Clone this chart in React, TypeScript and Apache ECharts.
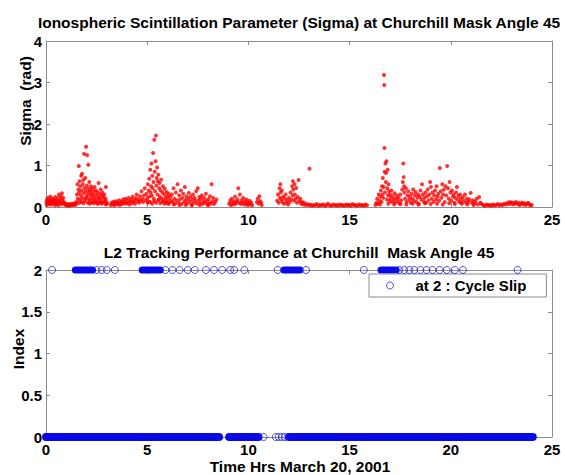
import React, { useEffect, useRef } from "react";
import * as echarts from "echarts";

// ---------- data ----------
const xTickStep = 5;
const xMax = 25;
const sigmaMax = 4;
const indexMax = 2;

// sigma samples [hour, sigma rad]
const sigma00to15 = [
  [0.02, 0.12], [0.03, 0.05], [0.05, 0.18], [0.08, 0.09], [0.1, 0.22], [0.13, 0.14], [0.15, 0.1], [0.16, 0.06],
  [0.19, 0.17], [0.22, 0.25], [0.25, 0.1], [0.27, 0.06], [0.28, 0.15], [0.31, 0.2], [0.34, 0.08], [0.37, 0.13],
  [0.4, 0.18], [0.43, 0.11], [0.44, 0.05], [0.46, 0.24], [0.49, 0.07], [0.52, 0.16], [0.55, 0.12], [0.58, 0.21],
  [0.6, 0.04], [0.61, 0.09], [0.64, 0.3], [0.67, 0.14], [0.7, 0.19], [0.73, 0.26], [0.75, 0.06], [0.76, 0.1],
  [0.79, 0.33], [0.82, 0.17], [0.85, 0.22], [0.88, 0.12], [0.9, 0.09], [0.92, 0.07], [0.96, 0.05], [1.0, 0.08],
  [1.04, 0.04], [1.08, 0.06], [1.12, 0.03], [1.16, 0.07], [1.2, 0.05], [1.24, 0.04], [1.28, 0.08], [1.32, 0.05],
  [1.36, 0.06], [1.4, 0.09], [1.44, 0.05],
];
const sigma15to31 = [
  [1.5, 0.12], [1.52, 0.08], [1.53, 0.3], [1.55, 0.55], [1.57, 0.2], [1.6, 0.42], [1.62, 0.99], [1.64, 0.35],
  [1.65, 0.1], [1.66, 0.62], [1.68, 0.18], [1.7, 0.5], [1.72, 0.28], [1.74, 0.75], [1.75, 0.12], [1.76, 0.4],
  [1.78, 0.8], [1.8, 0.22], [1.82, 0.55], [1.84, 0.65], [1.85, 0.09], [1.86, 0.33], [1.88, 1.28], [1.9, 0.46],
  [1.92, 0.15], [1.94, 0.7], [1.95, 0.2], [1.96, 0.38], [1.98, 1.45], [2.0, 0.25], [2.02, 0.52], [2.03, 1.25],
  [2.05, 0.3], [2.06, 0.1], [2.07, 0.44], [2.09, 1.02], [2.1, 0.2], [2.12, 0.36], [2.14, 0.6], [2.15, 0.08],
  [2.16, 0.14], [2.18, 0.41], [2.2, 0.28], [2.22, 0.5], [2.24, 0.19], [2.25, 0.1], [2.26, 0.33], [2.28, 0.45],
  [2.3, 0.12], [2.32, 0.27], [2.35, 0.38], [2.36, 0.09], [2.37, 0.21], [2.4, 0.48], [2.42, 0.16], [2.44, 0.3],
  [2.45, 0.12], [2.47, 0.4], [2.5, 0.1], [2.52, 0.25], [2.55, 0.35], [2.56, 0.07], [2.57, 0.18], [2.6, 0.58],
  [2.62, 0.22], [2.65, 0.31], [2.66, 0.1], [2.68, 0.13], [2.7, 0.42], [2.73, 0.2], [2.75, 0.08], [2.76, 0.28],
  [2.79, 0.35], [2.82, 0.11], [2.85, 0.24], [2.86, 0.12], [2.88, 0.3], [2.91, 0.16], [2.94, 0.2], [2.95, 0.06],
  [2.96, 0.48], [2.99, 0.12], [3.02, 0.08],
];
const sigma32to49 = [
  [3.2, 0.05], [3.24, 0.1], [3.28, 0.07], [3.32, 0.12], [3.36, 0.04], [3.4, 0.09], [3.44, 0.14], [3.48, 0.06],
  [3.52, 0.11], [3.56, 0.08], [3.6, 0.16], [3.64, 0.05], [3.68, 0.1], [3.72, 0.13], [3.76, 0.07], [3.8, 0.18],
  [3.84, 0.09], [3.88, 0.12], [3.92, 0.2], [3.96, 0.08], [4.0, 0.15], [4.04, 0.1], [4.08, 0.22], [4.12, 0.06],
  [4.16, 0.14], [4.2, 0.19], [4.24, 0.09], [4.28, 0.25], [4.32, 0.12], [4.36, 0.17], [4.4, 0.08], [4.44, 0.21],
  [4.48, 0.3], [4.52, 0.13], [4.56, 0.18], [4.6, 0.1], [4.64, 0.26], [4.68, 0.15], [4.72, 0.38], [4.76, 0.2],
  [4.8, 0.12], [4.84, 0.28], [4.88, 0.45], [4.92, 0.17],
];
const sigma49to62 = [
  [4.96, 0.32], [5.0, 0.22], [5.02, 0.1], [5.03, 0.55], [5.06, 0.14], [5.08, 0.4], [5.1, 0.68], [5.12, 0.25],
  [5.14, 0.12], [5.15, 0.9], [5.17, 0.35], [5.19, 0.5], [5.21, 1.05], [5.23, 0.28], [5.24, 0.08], [5.25, 0.75],
  [5.27, 0.45], [5.29, 1.3], [5.31, 0.6], [5.33, 0.2], [5.34, 0.14], [5.35, 1.62], [5.37, 0.85], [5.39, 0.38],
  [5.41, 1.1], [5.43, 1.72], [5.44, 0.1], [5.45, 0.52], [5.47, 0.7], [5.49, 0.95], [5.51, 0.3], [5.53, 0.62],
  [5.54, 0.16], [5.55, 0.78], [5.57, 0.18], [5.59, 0.45], [5.61, 0.58], [5.63, 0.25], [5.64, 0.09], [5.66, 0.4],
  [5.69, 0.66], [5.72, 0.2], [5.74, 0.12], [5.75, 0.35], [5.78, 0.5], [5.81, 0.15], [5.84, 0.3], [5.85, 0.08],
  [5.87, 0.44], [5.9, 0.22], [5.93, 0.12], [5.95, 0.1], [5.96, 0.36], [6.0, 0.26], [6.03, 0.18], [6.05, 0.07],
  [6.06, 0.32], [6.1, 0.1], [6.14, 0.24], [6.18, 0.15],
];
const sigma62to85 = [
  [6.22, 0.3], [6.26, 0.12], [6.3, 0.45], [6.31, 0.06], [6.34, 0.2], [6.38, 0.08], [6.42, 0.35], [6.46, 0.16],
  [6.5, 0.55], [6.54, 0.1], [6.58, 0.28], [6.6, 0.05], [6.62, 0.18], [6.66, 0.4], [6.7, 0.07], [6.74, 0.22],
  [6.78, 0.32], [6.82, 0.12], [6.86, 0.48], [6.9, 0.17], [6.91, 0.05], [6.94, 0.26], [6.98, 0.09], [7.02, 0.2],
  [7.06, 0.34], [7.1, 0.13], [7.14, 0.25], [7.18, 0.06], [7.21, 0.04], [7.22, 0.18], [7.26, 0.3], [7.3, 0.1],
  [7.34, 0.22], [7.38, 0.15], [7.42, 0.38], [7.46, 0.08], [7.5, 0.45], [7.54, 0.16], [7.58, 0.24], [7.6, 0.05],
  [7.62, 0.1], [7.66, 0.2], [7.7, 0.28], [7.74, 0.07], [7.78, 0.14], [7.82, 0.22], [7.86, 0.1], [7.9, 0.32],
  [7.94, 0.15], [7.98, 0.06], [8.01, 0.04], [8.02, 0.19], [8.06, 0.11], [8.1, 0.26], [8.14, 0.08], [8.18, 0.55],
  [8.22, 0.14], [8.26, 0.22], [8.3, 0.07], [8.36, 0.12], [8.42, 0.18],
];
const sigma90to107 = [
  [9.05, 0.08], [9.1, 0.15], [9.14, 0.05], [9.18, 0.2], [9.22, 0.1], [9.26, 0.06], [9.3, 0.14], [9.34, 0.25],
  [9.38, 0.08], [9.42, 0.12], [9.46, 0.18], [9.5, 0.45], [9.54, 0.1], [9.58, 0.3], [9.62, 0.07], [9.66, 0.16],
  [9.7, 0.11], [9.74, 0.22], [9.78, 0.06], [9.82, 0.13], [9.86, 0.09], [9.9, 0.18], [9.94, 0.05], [9.98, 0.12],
  [10.02, 0.08], [10.06, 0.15], [10.1, 0.06], [10.14, 0.1], [10.18, 0.04], [10.42, 0.12], [10.46, 0.2],
  [10.5, 0.08], [10.54, 0.26], [10.58, 0.14], [10.62, 0.1], [10.66, 0.05],
];
const sigma114to128 = [
  [11.42, 0.15], [11.46, 0.3], [11.5, 0.1], [11.54, 0.45], [11.56, 0.22], [11.58, 0.55], [11.6, 0.35],
  [11.62, 0.18], [11.65, 0.4], [11.68, 0.12], [11.72, 0.25], [11.76, 0.08], [11.8, 0.2], [11.84, 0.3],
  [11.88, 0.1], [11.92, 0.16], [11.96, 0.06], [12.0, 0.22], [12.04, 0.12], [12.08, 0.35], [12.12, 0.18],
  [12.16, 0.5], [12.18, 0.28], [12.2, 0.62], [12.22, 0.42], [12.25, 0.15], [12.28, 0.55], [12.3, 0.3],
  [12.33, 0.2], [12.36, 0.46], [12.4, 0.1], [12.44, 0.24], [12.48, 0.65], [12.52, 0.14], [12.56, 0.2],
  [12.6, 0.08], [12.65, 0.12], [12.7, 0.06], [12.75, 0.1],
];
const sigma128to163 = [
  [12.82, 0.05], [12.9, 0.07], [12.98, 0.04], [13.02, 0.92], [13.06, 0.06], [13.14, 0.03], [13.22, 0.05],
  [13.3, 0.04], [13.37, 0.07], [13.46, 0.03], [13.53, 0.05], [13.62, 0.04], [13.7, 0.06], [13.79, 0.03],
  [13.86, 0.05], [13.93, 0.08], [14.02, 0.04], [14.1, 0.03], [14.18, 0.06], [14.27, 0.04], [14.34, 0.05],
  [14.42, 0.03], [14.5, 0.06], [14.58, 0.04], [14.66, 0.05], [14.74, 0.03], [14.83, 0.06], [14.9, 0.04],
  [14.98, 0.05], [15.06, 0.03], [15.14, 0.07], [15.22, 0.04], [15.3, 0.05], [15.38, 0.03], [15.46, 0.06],
  [15.54, 0.04], [15.62, 0.05], [15.7, 0.03], [15.78, 0.06], [15.86, 0.04], [16.28, 0.05],
];
const sigma163to216 = [
  [16.32, 0.1], [16.36, 0.2], [16.4, 0.08], [16.44, 0.3], [16.48, 0.15], [16.5, 0.06], [16.52, 0.25],
  [16.55, 0.4], [16.58, 0.12], [16.6, 0.5], [16.62, 0.3], [16.64, 0.7], [16.66, 0.22], [16.68, 0.48],
  [16.7, 3.18], [16.71, 2.94], [16.72, 1.42], [16.73, 0.85], [16.75, 0.35], [16.77, 1.05], [16.79, 0.6],
  [16.8, 0.82], [16.82, 1.1], [16.84, 0.18], [16.86, 0.45], [16.88, 0.9], [16.9, 0.28], [16.91, 0.08],
  [16.92, 0.55], [16.95, 0.38], [16.98, 0.15], [17.0, 0.3], [17.03, 0.22], [17.06, 0.4], [17.1, 0.12],
  [17.14, 0.26], [17.18, 0.18], [17.2, 0.06], [17.22, 0.33], [17.26, 0.1], [17.3, 0.2], [17.34, 0.28],
  [17.38, 0.14], [17.42, 0.22], [17.46, 0.08], [17.5, 0.3], [17.52, 0.07], [17.55, 0.16], [17.6, 0.42],
  [17.63, 0.6], [17.65, 1.05], [17.67, 0.72], [17.69, 0.5], [17.71, 0.35], [17.74, 0.2], [17.78, 0.45],
  [17.8, 0.06], [17.82, 0.12], [17.86, 0.28], [17.9, 0.38], [17.94, 0.18], [17.98, 0.25], [18.02, 0.1],
  [18.06, 0.32], [18.1, 0.2], [18.11, 0.08], [18.14, 0.42], [18.18, 0.15], [18.22, 0.28], [18.26, 0.36],
  [18.3, 0.12], [18.34, 0.22], [18.38, 0.3], [18.4, 0.06], [18.42, 0.08], [18.46, 0.25], [18.5, 0.4],
  [18.54, 0.18], [18.58, 0.55], [18.62, 0.3], [18.66, 0.14], [18.7, 0.22], [18.72, 0.09], [18.74, 0.35],
  [18.78, 0.1], [18.82, 0.26], [18.86, 0.42], [18.9, 0.16], [18.94, 0.3], [18.98, 0.6], [19.0, 0.07],
  [19.02, 0.48], [19.06, 0.2], [19.1, 0.35], [19.14, 0.12], [19.18, 0.28], [19.22, 0.4], [19.26, 0.18],
  [19.3, 0.5], [19.32, 0.08], [19.34, 0.25], [19.38, 0.32], [19.42, 0.15], [19.46, 0.94], [19.5, 0.38],
  [19.54, 0.22], [19.58, 0.55], [19.6, 0.06], [19.62, 0.3], [19.66, 0.42], [19.7, 0.12], [19.74, 0.5],
  [19.78, 0.28], [19.82, 0.99], [19.86, 0.45], [19.9, 0.2], [19.92, 0.09], [19.94, 0.6], [19.98, 0.35],
  [20.02, 0.15], [20.06, 0.4], [20.1, 0.25], [20.14, 0.3], [20.18, 0.1], [20.2, 0.07], [20.22, 0.22],
  [20.26, 0.35], [20.3, 0.48], [20.34, 0.18], [20.38, 0.27], [20.42, 0.12], [20.46, 0.3], [20.5, 0.2],
  [20.52, 0.1], [20.55, 0.08], [20.6, 0.24], [20.65, 0.15], [20.7, 0.3], [20.75, 0.1], [20.8, 0.2],
  [20.82, 0.06], [20.86, 0.12], [20.92, 0.18], [20.98, 0.34], [21.04, 0.1], [21.1, 0.16], [21.12, 0.05],
  [21.16, 0.08], [21.22, 0.12], [21.28, 0.2], [21.34, 0.06], [21.4, 0.24], [21.46, 0.1], [21.52, 0.07],
];
const sigma216to240 = [
  [21.6, 0.05], [21.68, 0.03], [21.76, 0.06], [21.84, 0.04], [21.92, 0.05], [22.0, 0.03], [22.08, 0.06],
  [22.16, 0.04], [22.24, 0.05], [22.32, 0.07], [22.4, 0.04], [22.48, 0.06], [22.56, 0.05], [22.64, 0.08],
  [22.72, 0.06], [22.8, 0.1], [22.86, 0.07], [22.92, 0.12], [22.98, 0.08], [23.04, 0.11], [23.1, 0.06],
  [23.16, 0.09], [23.22, 0.12], [23.28, 0.07], [23.34, 0.1], [23.4, 0.05], [23.46, 0.08], [23.52, 0.11],
  [23.58, 0.06], [23.64, 0.09], [23.7, 0.05], [23.76, 0.08], [23.82, 0.1], [23.88, 0.06], [23.94, 0.04],
  [24.0, 0.05],
];

// L2 tracking: index 2 = cycle slip, index 0 = normal tracking
const cycleSlipTimes = [
  0.3, 2.5, 2.75, 3.0, 3.4, 5.9, 6.25, 6.6, 7.0, 7.35, 7.9, 8.3, 8.7, 9.1, 9.3, 9.8,
  11.45, 12.85, 15.7, 17.45, 17.7, 17.95, 18.2, 18.5, 18.8, 19.1, 19.45, 19.8, 20.2, 20.6, 23.3,
];
const cycleSlipRuns = [
  [1.45, 2.3], [4.75, 5.65], [11.75, 12.55], [16.55, 17.3],
];
const trackingRuns = [
  [0, 8.55], [9.05, 10.5], [12.0, 24.05],
];
const trackingTimes = [10.75, 11.35, 11.5, 11.65, 11.8];

const titleTop = "Ionospheric Scintillation Parameter (Sigma) at Churchill Mask Angle 45";
const titleBottom = "L2 Tracking Performance at Churchill  Mask Angle 45";
const xName = "Time Hrs March 20, 2001";
const yNameTop = "Sigma  (rad)";
const yNameBottom = "Index";
const legendName = "at 2 : Cycle Slip";

// ---------- style ----------
const FONT = '"Liberation Sans", Arial, Helvetica, sans-serif';
const AXIS_GRAY = "#8c8c8c";
const RED = "#ff0000";
const BLUE = "#0a0ae6";
const CIRCLE_BLUE = "#2222d0";

function makeAxes(gridIndex: number, max: number, interval: number, isX: boolean) {
  const base = {
    gridIndex,
    type: "value",
    min: 0,
    max,
    interval,
    axisLine: { show: true, onZero: false, lineStyle: { color: AXIS_GRAY, width: 1 } },
    axisTick: { show: true, inside: true, length: 4, lineStyle: { color: AXIS_GRAY } },
    splitLine: { show: false },
  };
  const main = {
    ...base,
    position: isX ? "bottom" : "left",
    axisLabel: {
      show: true,
      color: "#000",
      fontFamily: FONT,
      fontWeight: "bold",
      fontSize: 15,
      margin: isX ? 5 : 4,
    },
  };
  const mirror = {
    ...base,
    position: isX ? "top" : "right",
    axisLabel: { show: false },
  };
  return [main, mirror];
}

export default function App() {
  const ref = useRef<HTMLDivElement>(null);

  useEffect(() => {
    if (!ref.current) return;
    const chart = echarts.init(ref.current, null, { renderer: "svg" });

    const sigmaData = [
      ...sigma00to15, ...sigma15to31, ...sigma32to49, ...sigma49to62, ...sigma62to85,
      ...sigma90to107, ...sigma114to128, ...sigma128to163, ...sigma163to216, ...sigma216to240,
    ];

    const xAxes = [...makeAxes(0, xMax, xTickStep, true), ...makeAxes(1, xMax, xTickStep, true)];
    const yAxes = [...makeAxes(0, sigmaMax, 1, false), ...makeAxes(1, indexMax, 0.5, false)];

    const runSeries = (runs: number[][], level: number, width: number) =>
      runs.map(([a, b]) => ({
        type: "line",
        xAxisIndex: 2,
        yAxisIndex: 2,
        data: [[a, level], [b, level]],
        symbol: "none",
        clip: false,
        silent: true,
        lineStyle: { color: BLUE, width, cap: "round" },
        z: 3,
      }));

    const hollow = { color: "rgba(0,0,0,0)", borderColor: CIRCLE_BLUE, borderWidth: 1 };

    const textStyleBold = (size: number) => `bold ${size}px ${FONT}`;

    chart.setOption({
      animation: false,
      backgroundColor: "#ffffff",
      grid: [
        { left: 46, right: 13, top: 41, height: 166 },
        { left: 46, right: 13, top: 270, height: 167 },
      ],
      xAxis: xAxes,
      yAxis: yAxes,
      legend: {
        data: [legendName],
        left: 369,
        top: 274,
        orient: "horizontal",
        padding: [4, 20, 4, 17],
        itemWidth: 7,
        itemHeight: 7,
        backgroundColor: "#ffffff",
        borderColor: AXIS_GRAY,
        borderWidth: 1,
        borderRadius: 0,
        itemStyle: hollow,
        textStyle: {
          color: "#000",
          fontFamily: FONT,
          fontWeight: "bold",
          fontSize: 15,
          padding: [0, 0, 0, 17],
        },
      },
      series: [
        {
          type: "scatter",
          name: "sigma",
          xAxisIndex: 0,
          yAxisIndex: 0,
          data: sigmaData,
          symbol: "circle",
          symbolSize: 4,
          itemStyle: { color: RED },
          clip: false,
          silent: true,
        },
        ...runSeries(trackingRuns, 0, 8),
        ...runSeries(cycleSlipRuns, 2, 7),
        {
          type: "scatter",
          name: "tracking",
          xAxisIndex: 2,
          yAxisIndex: 2,
          data: trackingTimes.map((t) => [t, 0]),
          symbol: "circle",
          symbolSize: 7,
          itemStyle: hollow,
          clip: false,
          silent: true,
          z: 4,
        },
        {
          type: "scatter",
          name: legendName,
          xAxisIndex: 2,
          yAxisIndex: 2,
          data: cycleSlipTimes.map((t) => [t, 2]),
          symbol: "circle",
          symbolSize: 7,
          itemStyle: hollow,
          clip: false,
          silent: true,
          z: 4,
        },
      ],
      graphic: [
        {
          type: "text",
          x: 299,
          y: 22,
          style: { text: titleTop, font: textStyleBold(15.5), fill: "#000", align: "center", verticalAlign: "middle" },
        },
        {
          type: "text",
          x: 299,
          y: 252,
          style: { text: titleBottom, font: textStyleBold(15.5), fill: "#000", align: "center", verticalAlign: "middle" },
        },
        {
          type: "text",
          x: 300,
          y: 466,
          style: { text: xName, font: textStyleBold(15.5), fill: "#000", align: "center", verticalAlign: "middle" },
        },
        {
          type: "text",
          x: 25,
          y: 101,
          rotation: Math.PI / 2,
          style: { text: yNameTop, font: textStyleBold(15.5), fill: "#000", align: "center", verticalAlign: "middle" },
        },
        {
          type: "text",
          x: 18,
          y: 349,
          rotation: Math.PI / 2,
          style: { text: yNameBottom, font: textStyleBold(15.5), fill: "#000", align: "center", verticalAlign: "middle" },
        },
      ],
    });

    return () => chart.dispose();
  }, []);

  return (
    <div
      ref={ref}
      style={{ position: "fixed", left: 0, top: 0, width: 565, height: 475, background: "#fff" }}
    />
  );
}
